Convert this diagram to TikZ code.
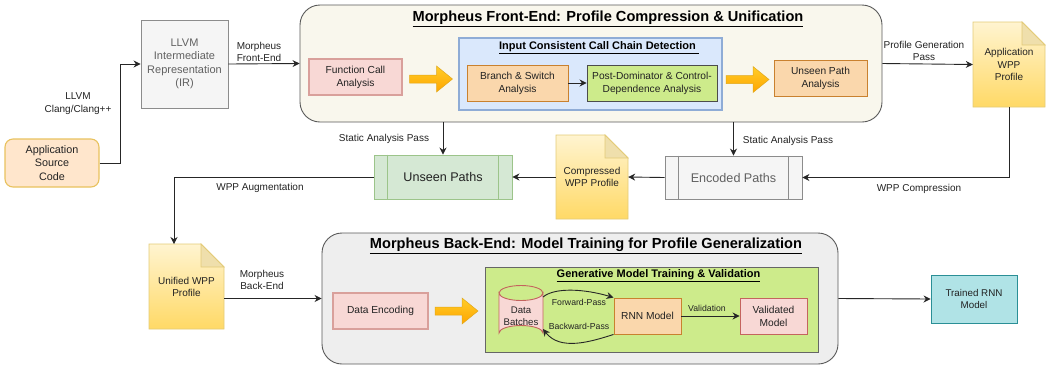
\documentclass[tikz,border=0pt]{standalone}
\usepackage{fontspec}
\setmainfont{Liberation Sans}
\usetikzlibrary{arrows.meta,calc}
\definecolor{inkc}{HTML}{222222}
\definecolor{redf}{HTML}{F8D8D5}\definecolor{redd}{HTML}{D9A09B}
\definecolor{oranf}{HTML}{FAD7AC}\definecolor{orand}{HTML}{C9812F}
\definecolor{docd}{HTML}{E3CB78}\definecolor{docf1}{HTML}{FFF4D0}\definecolor{docf2}{HTML}{FFD966}\definecolor{docfold}{HTML}{EFDFAC}
\definecolor{bigd}{HTML}{E0A81C}\definecolor{bigf1}{HTML}{FFCD28}\definecolor{bigf2}{HTML}{FFA500}
\definecolor{creamf}{HTML}{F9F7ED}\definecolor{greyf}{HTML}{EEEEEE}\definecolor{bluef}{HTML}{DAE8FC}\definecolor{blued}{HTML}{8FACD6}
\definecolor{limef}{HTML}{CDEB8B}\definecolor{srcf}{HTML}{FFE6CC}\definecolor{srcd}{HTML}{E8C25E}\definecolor{lightg}{HTML}{F5F5F5}
\definecolor{greenf}{HTML}{D5E8D4}\definecolor{greend}{HTML}{9CC48A}\definecolor{valb}{HTML}{C4645E}
\definecolor{tealf}{HTML}{B0E3E6}\definecolor{teald}{HTML}{2A8F96}
\tikzset{
  box/.style={draw,rectangle,line width=0.9pt,align=center,inner sep=0pt,text=inkc,font=\fontsize{10.2}{12.8}\selectfont},
  redbox/.style={box,fill=redf,draw=redd,line width=1.2pt},
  orangebox/.style={box,fill=oranf,draw=orand},
  process/.style={box,fill=#1,font=\fontsize{12.6}{15}\selectfont},
  lbl/.style={align=center,inner sep=0pt,text=inkc,font=\fontsize{10}{12.8}\selectfont},
  small/.style={lbl,font=\fontsize{8.7}{11}\selectfont},
  conn/.style={draw=black!85,line width=0.9pt,-{Stealth[length=7pt,width=7pt]}},
  doc/.style={draw=docd,line width=0.8pt,top color=docf1,bottom color=docf2},
  fold/.style={draw=docd,line width=0.8pt,fill=docfold},
  bigarrow/.style={draw=bigd,line width=0.5pt,top color=bigf1,bottom color=bigf2},
  doctext/.style={lbl},
  ttl/.style={lbl,font=\bfseries\fontsize{#1}{15}\selectfont,text=black},
}
\newcommand{\docshape}[4]{% x0,y0,x1,y1
  \path[doc] (#1,#2) -- ({#3-23},#2) -- (#3,{#2+23}) -- (#3,#4) -- (#1,#4) -- cycle;
  \path[fold] ({#3-23},#2) -- ({#3-23},{#2+23}) -- (#3,{#2+23}) -- cycle;
}
\newcommand{\bigarr}[2]{% x0, yc
  \path[bigarrow] (#1,{#2-4}) -- ({#1+27},{#2-4}) -- ({#1+27},{#2-13}) -- ({#1+43},#2) -- ({#1+27},{#2+13}) -- ({#1+27},{#2+4}) -- (#1,{#2+4}) -- cycle;
}
\begin{document}
\begin{tikzpicture}[x=1pt,y=-1pt]
\useasboundingbox (0,0) rectangle (1063,368);
% containers
\node[box,fill=creamf,draw=black!65,rounded corners=20pt,minimum width=582pt,minimum height=117pt] (front) at (591,63.5) {};
\node[box,fill=greyf,draw=black!65,rounded corners=20pt,minimum width=516pt,minimum height=131pt] (back) at (580,298.5) {};
\node[box,fill=bluef,draw=blued,line width=1.1pt,minimum width=263pt,minimum height=72pt] (icc) at (590.5,74) {};
\node[box,fill=limef,draw=black!60,minimum width=333pt,minimum height=85pt] (gen) at (651.5,309.5) {};
% titles
\node[ttl=14.6] (t1) at (608,19) {\underline{Morpheus Front-End: Profile Compression \& Unification}};
\node[ttl=14.6] (t2) at (586,246) {\underline{Morpheus Back-End: Model Training for Profile Generalization}};
\node[ttl=11] (t3) at (599,48) {\underline{Input Consistent Call Chain Detection\ }};
\node[ttl=11] (t4) at (658.5,276) {\underline{Generative Model Training \& Validation}};
% nodes
\node[box,fill=srcf,draw=srcd,line width=1.1pt,rounded corners=8pt,minimum width=94pt,minimum height=48pt,font=\fontsize{10.8}{13.5}\selectfont] (src) at (52,163) {Application\\Source\\ Code};
\node[box,fill=lightg,draw=black!45,text=black!62,minimum width=87pt,minimum height=88pt,font=\fontsize{11}{13.5}\selectfont] (ir) at (184.5,64) {LLVM\\Intermediate\\Representation\\(IR)};
\node[redbox,minimum width=93pt,minimum height=36pt] (fca) at (355.5,77) {Function Call\\Analysis};
\node[orangebox,minimum width=101pt,minimum height=36pt] (bsa) at (517.5,83) {Branch \& Switch\\Analysis};
\node[box,fill=limef,draw=black!70,minimum width=130pt,minimum height=36pt] (pda) at (652,83) {Post-Dominator \& Control-\\Dependence Analysis};
\node[orangebox,minimum width=93pt,minimum height=36pt] (upa) at (820.5,78) {Unseen Path\\Analysis};
\node[process=greenf,draw=greend,minimum width=138pt,minimum height=44pt] (unseen) at (443,177) {Unseen Paths};
\node[process=lightg,draw=black!45,text=black!62,minimum width=137pt,minimum height=43pt] (enc) at (733.5,177.5) {Encoded Paths};
\node[redbox,minimum width=95pt,minimum height=36pt] (denc) at (380.5,311) {Data Encoding};
\node[orangebox,minimum width=67pt,minimum height=36pt] (rnn) at (647.5,316) {RNN Model};
\node[box,fill=redf,draw=valb,minimum width=67pt,minimum height=36pt] (val) at (773.5,316) {Validated\\Model};
\node[box,fill=tealf,draw=teald,minimum width=86pt,minimum height=48pt,font=\fontsize{9.8}{12.8}\selectfont] (rnnout) at (974,299) {Trained RNN\\Model};
% documents
\docshape{973}{22}{1045}{107}
\node[doctext,minimum width=72pt,minimum height=85pt] (awpp) at (1009,64.5) {Application\\WPP\\Profile};
\docshape{556}{135}{628}{219}
\node[doctext,minimum width=72pt,minimum height=84pt] (cwpp) at (592,177) {Compressed\\WPP Profile};
\docshape{149}{244}{224}{329}
\node[doctext,minimum width=75pt,minimum height=85pt] (uwpp) at (186.5,287) {Unified WPP\\Profile};
% cylinder
\path[draw=valb,line width=0.9pt,fill=redf] (499,293) -- (499,333) arc[start angle=180,end angle=360,x radius=22pt,y radius=-7.5pt] -- (543,293) arc[start angle=0,end angle=180,x radius=22pt,y radius=-7.5pt] -- cycle;
\draw[draw=valb,line width=0.9pt] (499,293) arc[start angle=180,end angle=360,x radius=22pt,y radius=-7.5pt];
\node[lbl,font=\fontsize{9.6}{12}\selectfont,minimum width=44pt,minimum height=54pt] (db) at (521,313) {\mbox{}\\[2pt]Data\\Batches};
% process inner bars
\draw[draw=greend,line width=0.9pt] ($(unseen.north west)+(14,0)$) -- ($(unseen.south west)+(14,0)$) ($(unseen.north east)+(-14,0)$) -- ($(unseen.south east)+(-14,0)$);
\draw[draw=black!45,line width=0.9pt] ($(enc.north west)+(14,0)$) -- ($(enc.south west)+(14,0)$) ($(enc.north east)+(-14,0)$) -- ($(enc.south east)+(-14,0)$);
% big arrows
\bigarr{409.5}{79}
\bigarr{726}{79.5}
\bigarr{435}{311}
% connectors
\draw[conn] (src.east) -- ++(21,0) |- (ir.west);
\draw[conn] (ir.east) -- (front.west);
\draw[conn] (unseen.north |- front.south) -- (unseen.north);
\draw[conn] (enc.north |- front.south) -- (enc.north);
\draw[conn] (front.east) -- (awpp.west);
\coordinate (ae) at (1009,107);
\draw[conn] (ae) |- (enc.east);
\draw[conn] (enc.west) -- (cwpp.east);
\draw[conn] (cwpp.west) -- (unseen.east);
\coordinate (ua) at (174,244);
\draw[conn] (unseen.west) -| (ua);
\draw[conn] (uwpp.east |- back.west) -- (back.west);
\draw[conn] (back.east) -- (rnnout.west);
\draw[conn] (bsa.east) -- (pda.west);
\draw[conn] (rnn.east) -- (val.west);
\coordinate (dbf) at (543,297);
\coordinate (dbb) at (543,329);
\draw[conn] (dbf) .. controls (555,287) and (585,289) .. (rnn.north west);
\draw[conn] (rnn.south west) .. controls (590,342) and (560,351) .. (dbb);
% labels
\node[lbl] (l1) at (78,103.5) {LLVM\\Clang/Clang++};
\node[lbl] (l2) at (259,52) {Morpheus\\Front-End};
\node[lbl] (l3) at (384,139) {Static Analysis Pass};
\node[lbl] (l4) at (260,188) {WPP Augmentation};
\node[lbl] (l5) at (924,51) {Profile Generation\\Pass};
\node[lbl] (l6) at (788,141) {Static Analysis Pass};
\node[lbl] (l7) at (919,189) {WPP Compression};
\node[lbl] (l8) at (262,280) {Morpheus\\Back-End};
\node[small] (l9) at (579,302) {Forward-Pass};
\node[small] (l10) at (579,326) {Backward-Pass};
\node[small] (l11) at (707,308) {Validation};
\end{tikzpicture}
\end{document}
